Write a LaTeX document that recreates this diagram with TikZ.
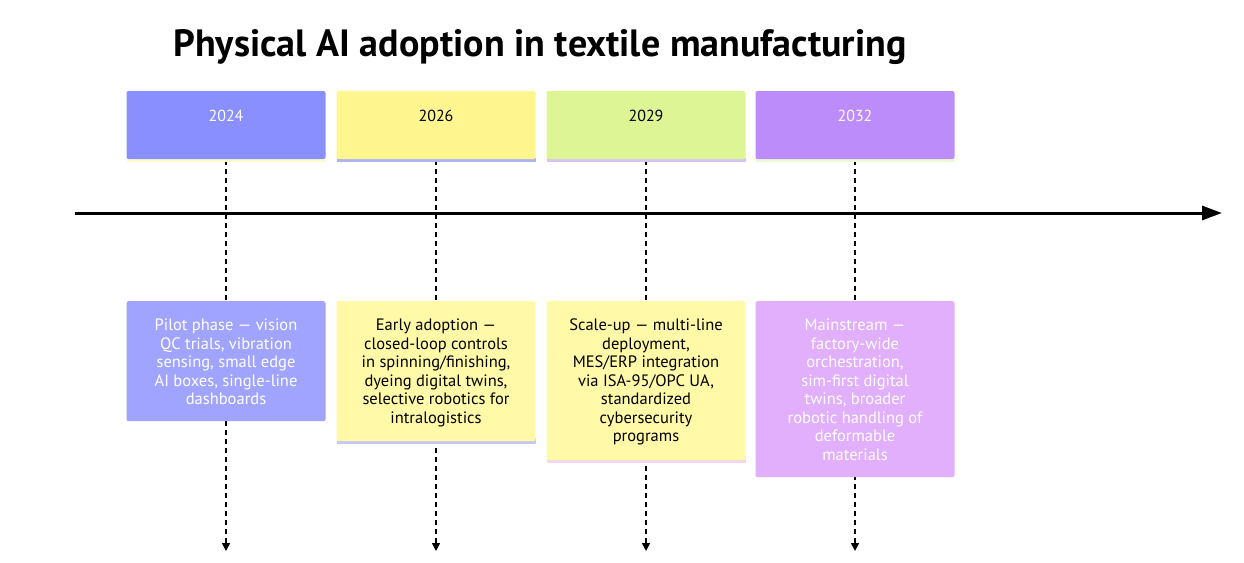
\documentclass[tikz,border=0pt]{standalone}
\usepackage{fontspec}
\setmainfont{PT Sans}
\usetikzlibrary{arrows.meta}
\definecolor{hA}{HTML}{8A8FFF}\definecolor{bA}{HTML}{A0A4FF}\definecolor{lA}{HTML}{FFFAC8}
\definecolor{hB}{HTML}{FFF68F}\definecolor{bB}{HTML}{FFF9A8}\definecolor{lB}{HTML}{B0B2F5}
\definecolor{hC}{HTML}{DEF595}\definecolor{bC}{HTML}{FFF9A8}\definecolor{lC}{HTML}{D5C5F5}
\definecolor{hD}{HTML}{BB8CFA}\definecolor{bD}{HTML}{E1AFFC}\definecolor{lD}{HTML}{EEF9D5}
\definecolor{lBb}{HTML}{C5C8F5}\definecolor{lCb}{HTML}{F5D5F0}
\tikzset{
 head/.style={minimum width=199pt,minimum height=68pt,inner sep=0pt,rounded corners=2pt},
 yeartext/.style={font=\fontsize{16pt}{18pt}\selectfont},
 body/.style={minimum width=199pt,inner sep=0pt,rounded corners=2pt,anchor=north},
 bodytext/.style={font=\fontsize{16.5pt}{18.5pt}\selectfont,align=center,anchor=north,inner sep=0pt},
 vline/.style={dash pattern=on 5pt off 4pt,line width=1.6pt,-{Triangle[length=8pt,width=8pt]}}
}
\begin{document}
\begin{tikzpicture}[x=1pt,y=-1pt]
\useasboundingbox (0,0) rectangle (1244,562);
\node[font=\bfseries\fontsize{38pt}{42pt}\selectfont,anchor=center] (title) at (540,47) {Physical AI adoption in textile manufacturing};
\coordinate (axl) at (75,213);\coordinate (axr) at (1222,213);
\foreach \n/\x in {a/226,b/436,c/646,d/855}{
 \coordinate (t\n) at (\x,160); \coordinate (e\n) at (\x,551);
 \draw[vline] (t\n) -- (e\n);
}
\draw[line width=3pt,-{Triangle[length=20pt,width=14pt]}] (axl) -- (axr);
\foreach \n/\x/\hc/\lc/\tc/\yr in {a/226/hA/lA/white/2024,b/436/hB/lB/black/2026,c/646/hC/lC/black/2029,d/855/hD/lD/white/2032}{
 \fill[\lc] (\x-99.5,158) rectangle (\x+99.5,162);
 \node[head,fill=\hc] (h\n) at (\x,125) {};
 \node[yeartext,text=\tc] (y\n) at (\x,116) {\yr};
}
\node[body,fill=bA,minimum height=120pt] (ba) at (226,301) {};
\node[bodytext,text=white] (ta) at (226,319) {Pilot phase — vision\\QC trials, vibration\\sensing, small edge\\AI boxes, single-line\\dashboards};
\fill[lBb] (336.5,438) rectangle (535.5,444);
\node[body,fill=bB,minimum height=140pt] (bb) at (436,301) {};
\node[bodytext,text=black] (tb) at (436,319) {Early adoption —\\closed-loop controls\\in spinning/finishing,\\dyeing digital twins,\\selective robotics for\\intralogistics};
\fill[lCb] (546.5,457) rectangle (745.5,463);
\node[body,fill=bC,minimum height=159pt] (bc) at (646,301) {};
\node[bodytext,text=black] (tc) at (646,319) {Scale-up — multi-line\\deployment,\\MES/ERP integration\\via ISA-95/OPC UA,\\standardized\\cybersecurity\\programs};
\node[body,fill=bD,minimum height=176pt] (bd) at (855,301) {};
\node[bodytext,text=white] (td) at (855,319) {Mainstream —\\factory-wide\\orchestration,\\sim-first digital\\twins, broader\\robotic handling of\\deformable\\materials};
\end{tikzpicture}
\end{document}
